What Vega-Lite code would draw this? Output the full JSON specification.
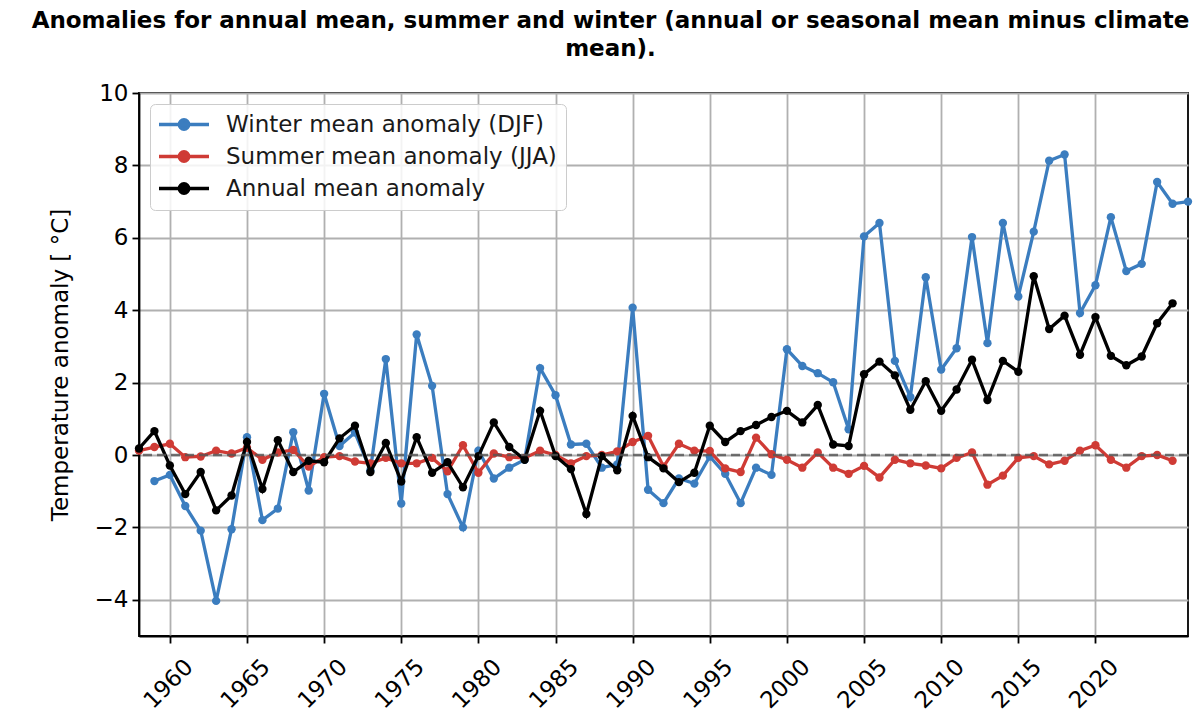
{
  "$schema": "https://vega.github.io/schema/vega-lite/v6.json",
  "width": 1049,
  "height": 543,
  "autosize": "none",
  "padding": {"left": 139, "top": 93, "right": 12, "bottom": 85},
  "background": "white",
  "config": {
    "font": "DejaVu Sans",
    "view": {"stroke": "black", "strokeWidth": 1.8}
  },
  "title": {
    "text": ["Anomalies for annual mean, summer and winter (annual or seasonal mean minus climate", "mean)."],
    "font": "DejaVu Sans",
    "fontSize": 23,
    "fontWeight": "bold",
    "color": "black",
    "anchor": "middle",
    "dx": -53,
    "offset": 21,
    "lineHeight": 28
  },
  "layer": [
    {
      "data": {
        "values": [
          {"year": 1958, "winter": null, "summer": 0.12, "annual": 0.18},
          {"year": 1959, "winter": -0.72, "summer": 0.22, "annual": 0.66},
          {"year": 1960, "winter": -0.55, "summer": 0.31, "annual": -0.29},
          {"year": 1961, "winter": -1.41, "summer": -0.06, "annual": -1.08},
          {"year": 1962, "winter": -2.09, "summer": -0.04, "annual": -0.47},
          {"year": 1963, "winter": -4.03, "summer": 0.12, "annual": -1.53},
          {"year": 1964, "winter": -2.05, "summer": 0.04, "annual": -1.12},
          {"year": 1965, "winter": 0.49, "summer": 0.2, "annual": 0.36},
          {"year": 1966, "winter": -1.8, "summer": -0.13, "annual": -0.94},
          {"year": 1967, "winter": -1.48, "summer": 0.07, "annual": 0.41},
          {"year": 1968, "winter": 0.63, "summer": 0.14, "annual": -0.47},
          {"year": 1969, "winter": -0.98, "summer": -0.32, "annual": -0.16},
          {"year": 1970, "winter": 1.69, "summer": -0.06, "annual": -0.2},
          {"year": 1971, "winter": 0.25, "summer": -0.03, "annual": 0.46},
          {"year": 1972, "winter": 0.62, "summer": -0.18, "annual": 0.81},
          {"year": 1973, "winter": -0.42, "summer": -0.23, "annual": -0.47},
          {"year": 1974, "winter": 2.65, "summer": -0.08, "annual": 0.33},
          {"year": 1975, "winter": -1.34, "summer": -0.23, "annual": -0.73},
          {"year": 1976, "winter": 3.33, "summer": -0.23, "annual": 0.49},
          {"year": 1977, "winter": 1.91, "summer": -0.08, "annual": -0.49},
          {"year": 1978, "winter": -1.08, "summer": -0.45, "annual": -0.2},
          {"year": 1979, "winter": -2.0, "summer": 0.27, "annual": -0.89},
          {"year": 1980, "winter": 0.12, "summer": -0.49, "annual": -0.03},
          {"year": 1981, "winter": -0.65, "summer": 0.04, "annual": 0.9},
          {"year": 1982, "winter": -0.35, "summer": -0.06, "annual": 0.22},
          {"year": 1983, "winter": -0.13, "summer": -0.08, "annual": -0.13},
          {"year": 1984, "winter": 2.4, "summer": 0.12, "annual": 1.22},
          {"year": 1985, "winter": 1.65, "summer": 0.0, "annual": -0.03},
          {"year": 1986, "winter": 0.29, "summer": -0.23, "annual": -0.39},
          {"year": 1987, "winter": 0.31, "summer": -0.03, "annual": -1.63},
          {"year": 1988, "winter": -0.35, "summer": 0.0, "annual": -0.03},
          {"year": 1989, "winter": -0.26, "summer": 0.1, "annual": -0.42},
          {"year": 1990, "winter": 4.07, "summer": 0.36, "annual": 1.08},
          {"year": 1991, "winter": -0.96, "summer": 0.53, "annual": -0.06},
          {"year": 1992, "winter": -1.33, "summer": -0.32, "annual": -0.37},
          {"year": 1993, "winter": -0.65, "summer": 0.31, "annual": -0.75},
          {"year": 1994, "winter": -0.79, "summer": 0.12, "annual": -0.49},
          {"year": 1995, "winter": -0.04, "summer": 0.11, "annual": 0.81},
          {"year": 1996, "winter": -0.52, "summer": -0.37, "annual": 0.36},
          {"year": 1997, "winter": -1.33, "summer": -0.47, "annual": 0.66},
          {"year": 1998, "winter": -0.35, "summer": 0.48, "annual": 0.83},
          {"year": 1999, "winter": -0.55, "summer": 0.02, "annual": 1.05},
          {"year": 2000, "winter": 2.92, "summer": -0.13, "annual": 1.22},
          {"year": 2001, "winter": 2.46, "summer": -0.35, "annual": 0.9},
          {"year": 2002, "winter": 2.26, "summer": 0.07, "annual": 1.38},
          {"year": 2003, "winter": 2.01, "summer": -0.35, "annual": 0.29},
          {"year": 2004, "winter": 0.71, "summer": -0.52, "annual": 0.25},
          {"year": 2005, "winter": 6.04, "summer": -0.3, "annual": 2.23},
          {"year": 2006, "winter": 6.41, "summer": -0.62, "annual": 2.58},
          {"year": 2007, "winter": 2.6, "summer": -0.13, "annual": 2.2},
          {"year": 2008, "winter": 1.6, "summer": -0.23, "annual": 1.25},
          {"year": 2009, "winter": 4.91, "summer": -0.29, "annual": 2.04},
          {"year": 2010, "winter": 2.36, "summer": -0.37, "annual": 1.22},
          {"year": 2011, "winter": 2.95, "summer": -0.08, "annual": 1.81},
          {"year": 2012, "winter": 6.02, "summer": 0.07, "annual": 2.63},
          {"year": 2013, "winter": 3.09, "summer": -0.82, "annual": 1.52},
          {"year": 2014, "winter": 6.41, "summer": -0.57, "annual": 2.6},
          {"year": 2015, "winter": 4.38, "summer": -0.08, "annual": 2.3},
          {"year": 2016, "winter": 6.17, "summer": -0.03, "annual": 4.94},
          {"year": 2017, "winter": 8.13, "summer": -0.26, "annual": 3.48},
          {"year": 2018, "winter": 8.3, "summer": -0.16, "annual": 3.85},
          {"year": 2019, "winter": 3.92, "summer": 0.12, "annual": 2.77},
          {"year": 2020, "winter": 4.69, "summer": 0.27, "annual": 3.81},
          {"year": 2021, "winter": 6.57, "summer": -0.13, "annual": 2.74},
          {"year": 2022, "winter": 5.08, "summer": -0.35, "annual": 2.48},
          {"year": 2023, "winter": 5.28, "summer": -0.03, "annual": 2.72},
          {"year": 2024, "winter": 7.54, "summer": 0.0, "annual": 3.64},
          {"year": 2025, "winter": 6.94, "summer": -0.16, "annual": 4.19},
          {"year": 2026, "winter": 7.0, "summer": null, "annual": null}
        ]
      },
      "transform": [
        {"fold": ["winter", "summer", "annual"], "as": ["series", "value"]},
        {"filter": "datum.value != null"}
      ],
      "encoding": {
        "x": {
          "field": "year",
          "type": "quantitative",
          "scale": {"domain": [1958, 2026], "nice": false, "zero": false},
          "axis": {
            "values": [1960, 1965, 1970, 1975, 1980, 1985, 1990, 1995, 2000, 2005, 2010, 2015, 2020],
            "format": "d",
            "title": null,
            "labelAngle": -45,
            "labelAlign": "right",
            "labelBaseline": "middle",
            "labelFontSize": 23,
            "labelColor": "black",
            "labelOffset": 19,
            "labelPadding": 20,
            "labelFlush": false,
            "labelOverlap": false,
            "tickColor": "black",
            "tickSize": 7,
            "tickWidth": 1.8,
            "domainColor": "black",
            "domainWidth": 1.8,
            "grid": true,
            "gridColor": "#b0b0b0",
            "gridWidth": 1.8
          }
        },
        "y": {
          "field": "value",
          "type": "quantitative",
          "scale": {"domain": [-5, 10], "nice": false, "zero": false},
          "axis": {
            "values": [-4, -2, 0, 2, 4, 6, 8, 10],
            "title": "Temperature anomaly [ °C]",
            "titleFontSize": 23,
            "titleFontWeight": "normal",
            "titleColor": "black",
            "titlePadding": 22,
            "labelFontSize": 23,
            "labelColor": "black",
            "labelPadding": 4,
            "tickColor": "black",
            "tickSize": 7,
            "tickWidth": 1.8,
            "domainColor": "black",
            "domainWidth": 1.8,
            "grid": true,
            "gridColor": "#b0b0b0",
            "gridWidth": 1.8
          }
        },
        "color": {
          "field": "series",
          "type": "nominal",
          "scale": {"domain": ["winter", "summer", "annual"], "range": ["#3b7dbf", "#cf3b35", "#000000"]},
          "legend": {
            "title": null,
            "orient": "none",
            "legendX": 11,
            "legendY": 11,
            "labelExpr": "datum.value == 'winter' ? 'Winter mean anomaly (DJF)' : datum.value == 'summer' ? 'Summer mean anomaly (JJA)' : 'Annual mean anomaly'",
            "labelFontSize": 23,
            "labelColor": "#1a1a1a",
            "labelLimit": 600,
            "labelOffset": 44,
            "symbolType": "M-3,0L3,0M-0.57,0A0.57,0.57,0,1,1,0.57,0A0.57,0.57,0,1,1,-0.57,0Z",
            "symbolSize": 278,
            "symbolStrokeWidth": 3.3,
            "rowPadding": 8,
            "padding": 9,
            "fillColor": "rgba(255,255,255,0.85)",
            "strokeColor": "#cccccc",
            "cornerRadius": 5,
            "encode": {
              "symbols": {
                "update": {
                  "xc": {"value": 25},
                  "fill": {"scale": "color", "field": "value"},
                  "stroke": {"scale": "color", "field": "value"}
                }
              }
            }
          }
        }
      },
      "layer": [
        {
          "transform": [{"filter": "datum.series == 'winter'"}],
          "mark": {"type": "line", "strokeWidth": 3.3, "point": {"filled": true, "size": 70}}
        },
        {
          "transform": [{"filter": "datum.series == 'summer'"}],
          "mark": {"type": "line", "strokeWidth": 3.3, "point": {"filled": true, "size": 70}}
        },
        {
          "transform": [{"filter": "datum.series == 'annual'"}],
          "mark": {"type": "line", "strokeWidth": 3.3, "point": {"filled": true, "size": 70}}
        }
      ]
    },
    {
      "data": {"values": [{"zero": 0}]},
      "mark": {"type": "rule", "color": "#555555", "strokeWidth": 2.5, "strokeDash": [9, 5], "opacity": 0.8},
      "encoding": {"y": {"field": "zero", "type": "quantitative"}}
    }
  ]
}
